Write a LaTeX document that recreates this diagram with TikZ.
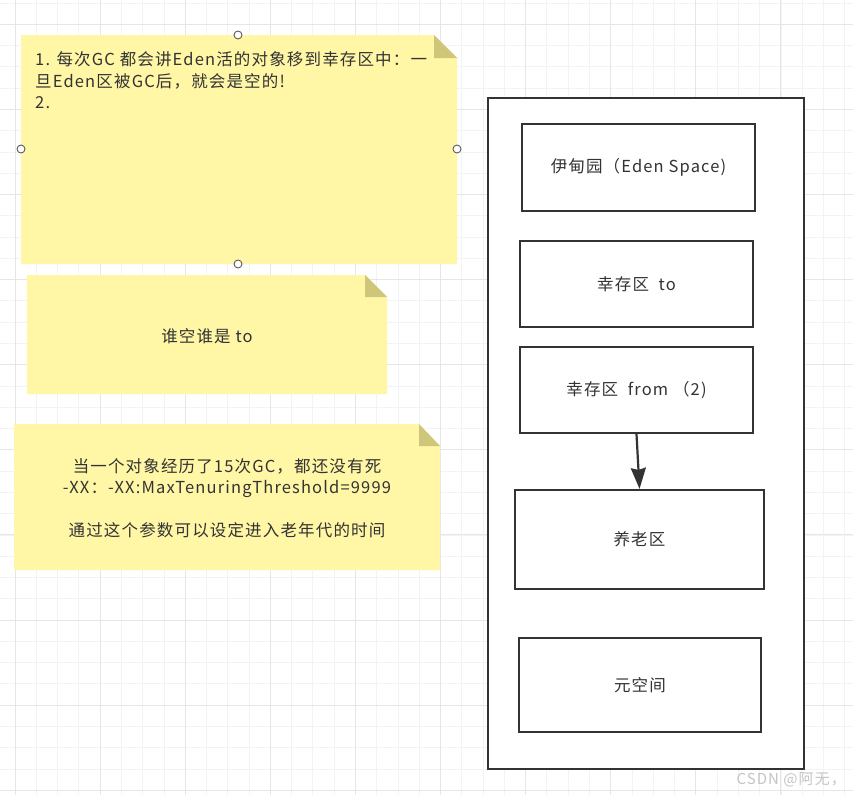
\documentclass[tikz,border=0pt]{standalone}
\usepackage{fontspec}
\setmainfont[LetterSpace=7]{Noto Sans CJK SC}
\usetikzlibrary{arrows.meta}
\definecolor{notefill}{HTML}{FFF6A6}
\definecolor{notefold}{HTML}{CFC67A}
\definecolor{gridminor}{HTML}{F3F3F3}
\definecolor{gridmajor}{HTML}{E6E6E6}
\definecolor{ink}{HTML}{333333}
\definecolor{wm}{HTML}{C4C4C4}
\tikzset{
  notebody/.style={fill=notefill, draw=none},
  notecorner/.style={fill=notefold, draw=none},
  notetext/.style={text=ink, inner sep=0pt, font=\fontsize{16.5}{21.5}\selectfont},
  regionbox/.style={draw=ink, line width=2.2pt, fill=white, text=ink, inner sep=0pt,
    font=\fontsize{16.5}{20}\selectfont},
  handle/.style={circle, draw=ink!80, fill=white, line width=0.9pt, minimum size=8pt, inner sep=0pt},
  flow/.style={draw=ink, line width=2.2pt, -{Stealth[length=21pt, width=15pt, inset=2pt]}}
}
\begin{document}
\begin{tikzpicture}[x=1pt, y=-1pt]
\useasboundingbox (0,0) rectangle (853,795);
\fill[white] (0,0) rectangle (853,795);
% grid
\foreach \i in {0,...,40} {
  \pgfmathsetmacro{\gx}{15+21.275*\i}
  \draw[gridminor, line width=0.8pt] (\gx,0) -- (\gx,795);
}
\foreach \i in {-1,...,37} {
  \pgfmathsetmacro{\gy}{24.3+21.275*\i}
  \draw[gridminor, line width=0.8pt] (0,\gy) -- (853,\gy);
}
\foreach \i in {0,...,10} {
  \pgfmathsetmacro{\gx}{15+85.1*\i}
  \draw[gridmajor, line width=0.9pt] (\gx,0) -- (\gx,795);
}
\foreach \i in {0,...,9} {
  \pgfmathsetmacro{\gy}{24.3+85.1*\i}
  \draw[gridmajor, line width=0.9pt] (0,\gy) -- (853,\gy);
}

% note 1
\path[notebody] (21,35) -- (434,35) -- (457,58) -- (457,264) -- (21,264) -- cycle;
\path[notecorner] (434,35) -- (434,58) -- (457,58) -- cycle;
\node[notetext, anchor=north west, align=left] (n1) at (35,51.5)
  {1. 每次GC 都会讲Eden活的对象移到幸存区中：一\\旦Eden区被GC后，就会是空的!\\2.};
\node[handle] (h1) at (238,35) {};
\node[handle] (h2) at (21,149) {};
\node[handle] (h3) at (457,149) {};
\node[handle] (h4) at (238,264) {};

% note 2
\path[notebody] (27,275) -- (365,275) -- (387,297) -- (387,394) -- (27,394) -- cycle;
\path[notecorner] (365,275) -- (365,297) -- (387,297) -- cycle;
\node[notetext] (n2) at (207,336) {谁空谁是 to};

% note 3
\path[notebody] (14,424) -- (419,424) -- (440,446) -- (440,570) -- (14,570) -- cycle;
\path[notecorner] (419,424) -- (419,446) -- (440,446) -- cycle;
\node[notetext, align=center] (n3) at (227,498)
  {当一个对象经历了15次GC，都还没有死\\-XX：-XX:MaxTenuringThreshold=9999\\ \\通过这个参数可以设定进入老年代的时间};

% heap container
\node[regionbox, minimum width=316pt, minimum height=671pt] (heap) at (646,433.5) {};
\node[regionbox, minimum width=233pt, minimum height=87pt] (eden) at (638.5,167.5) {伊甸园（Eden Space)};
\node[regionbox, minimum width=233pt, minimum height=86pt] (sto) at (636.5,284) {幸存区\ \ to};
\node[regionbox, minimum width=233pt, minimum height=86pt] (sfrom) at (636.5,390) {幸存区\ \ from （2)};
\node[regionbox, minimum width=249pt, minimum height=99pt] (old) at (639.5,539.5) {养老区};
\node[regionbox, minimum width=242pt, minimum height=94pt] (meta) at (640,685) {元空间};

\draw[flow] (sfrom.south) -- (old.north);

\node[text=wm, font=\fontsize{15}{16}\selectfont, anchor=east, inner sep=0pt] (wmk) at (846,780) {CSDN @阿无，};
\end{tikzpicture}
\end{document}
